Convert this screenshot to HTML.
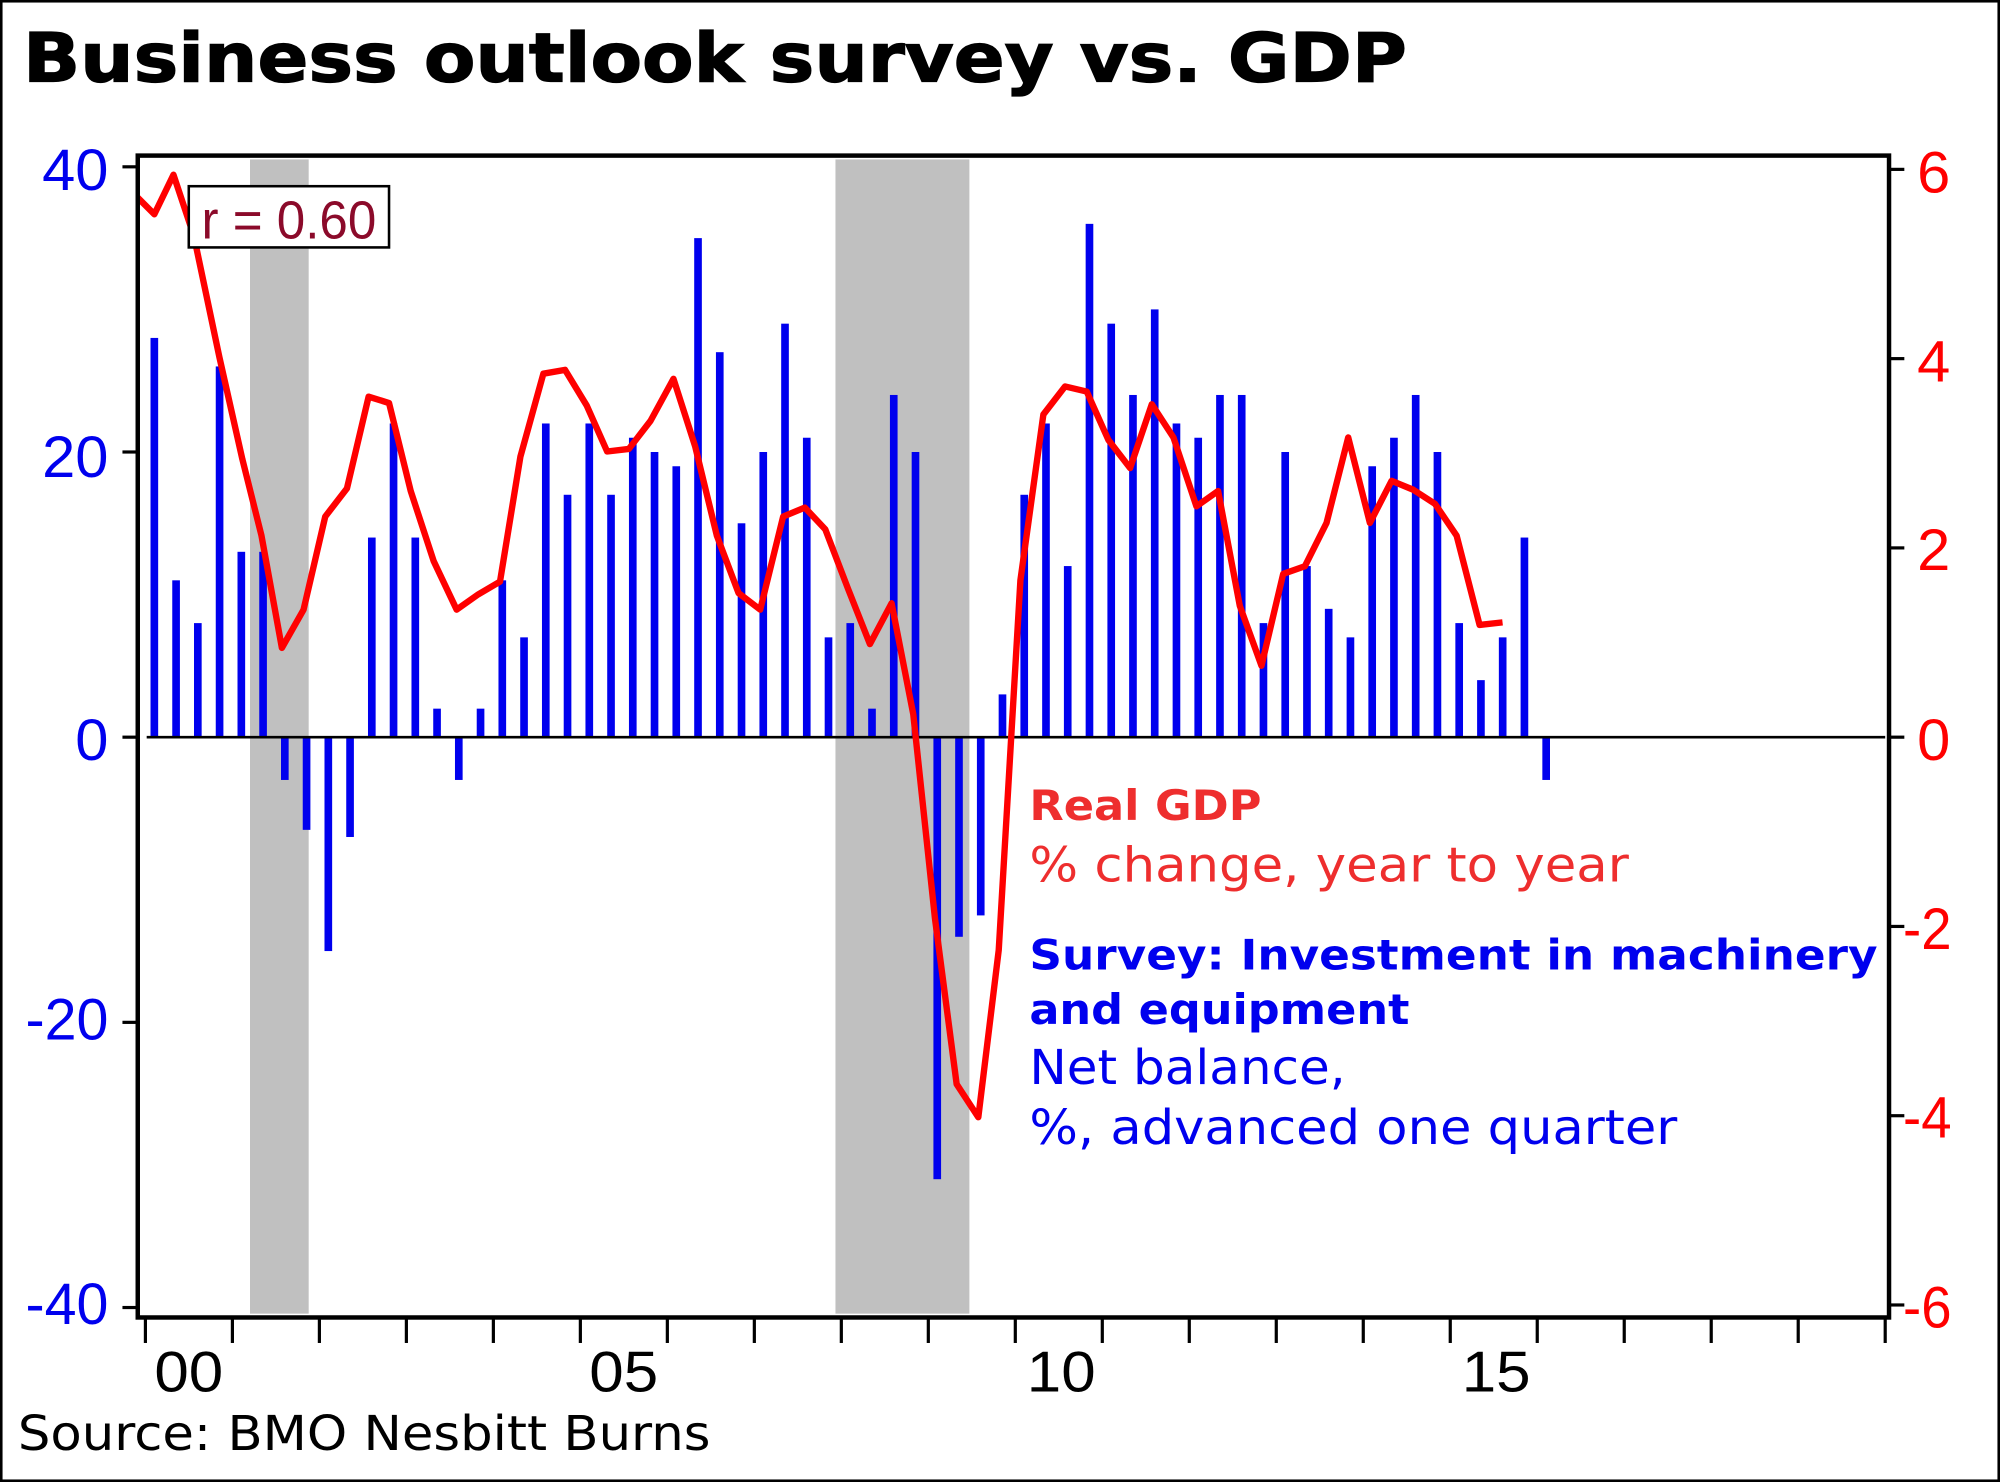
<!DOCTYPE html>
<html><head><meta charset="utf-8"><style>
html,body{margin:0;padding:0;background:#fff;}
svg{display:block;}
</style></head><body>
<svg id="s" width="2000" height="1482" viewBox="0 0 1568 1162" preserveAspectRatio="none" xmlns="http://www.w3.org/2000/svg">
<rect x="0" y="0" width="1568" height="1162" fill="#fff"/>
<rect x="1" y="1" width="1566" height="1160" fill="none" stroke="#000" stroke-width="2"/>
<text x="18" y="64" font-family="DejaVu Sans, Verdana, sans-serif" font-weight="bold" font-size="53" textLength="1085" lengthAdjust="spacingAndGlyphs" fill="#000" stroke="#000" stroke-width="1">Business outlook survey vs. GDP</text>
<rect x="196" y="125" width="46" height="905" fill="#c0c0c0"/>
<rect x="655" y="125" width="105" height="905" fill="#c0c0c0"/>
<g id="bars" fill="#0000ee"></g>
<line x1="115" y1="578" x2="1478" y2="578" stroke="#000" stroke-width="2"/>
<polyline fill="none" stroke="#ff0000" stroke-width="5" stroke-linejoin="round" points="108,155 121,168 136,137 152,185 172,280 190,360 205,420 221,508 238,478 255,405 272,383 289,311 305,316 322,385 340,440 358,478 375,466 392,456 408,358 426,293 443,290 460,318 476,354 493,352 510,330 528,297 545,350 562,420 579,465 596,478 614,405 631,398 647,415 665,462 682,505 699,473 716,560 733,720 750,850 767,876 783,745 800,455 818,325 835,303 852,307 869,345 886,367 903,317 920,343 938,397 955,385 972,475 989,522 1006,450 1023,444 1040,410 1057,343 1074,410 1091,377 1108,384 1125,395 1142,420 1160,490 1178,488"/>
<rect x="108" y="122" width="1373" height="911" fill="none" stroke="#000" stroke-width="3.5"/>
<g id="ticks" stroke="#000" stroke-width="2.5"></g>
<rect x="148" y="146" width="157" height="48" fill="#fff" stroke="#000" stroke-width="2"/>
<text x="158" y="187" font-family="Liberation Sans, sans-serif" font-size="42" textLength="137" lengthAdjust="spacingAndGlyphs" fill="#8b0a2a">r = 0.60</text>
<g font-family="Liberation Sans, sans-serif" font-size="46" fill="#0000ee" lengthAdjust="spacingAndGlyphs">
<text x="33" y="149" textLength="52" lengthAdjust="spacingAndGlyphs">40</text>
<text x="33" y="374" textLength="52" lengthAdjust="spacingAndGlyphs">20</text>
<text x="59" y="596" textLength="26" lengthAdjust="spacingAndGlyphs">0</text>
<text x="20" y="815" textLength="65" lengthAdjust="spacingAndGlyphs">-20</text>
<text x="20" y="1038" textLength="65" lengthAdjust="spacingAndGlyphs">-40</text>
</g>
<g font-family="Liberation Sans, sans-serif" font-size="46" fill="#ff0000">
<text x="1503" y="151" textLength="26" lengthAdjust="spacingAndGlyphs">6</text>
<text x="1503" y="299" textLength="26" lengthAdjust="spacingAndGlyphs">4</text>
<text x="1503" y="447" textLength="26" lengthAdjust="spacingAndGlyphs">2</text>
<text x="1503" y="596" textLength="26" lengthAdjust="spacingAndGlyphs">0</text>
<text x="1492" y="744" textLength="38" lengthAdjust="spacingAndGlyphs">-2</text>
<text x="1492" y="892" textLength="38" lengthAdjust="spacingAndGlyphs">-4</text>
<text x="1492" y="1041" textLength="38" lengthAdjust="spacingAndGlyphs">-6</text>
</g>
<g font-family="Liberation Sans, sans-serif" font-size="45" fill="#000">
<text x="121" y="1091" textLength="54" lengthAdjust="spacingAndGlyphs">00</text>
<text x="462" y="1091" textLength="54" lengthAdjust="spacingAndGlyphs">05</text>
<text x="805" y="1091" textLength="54" lengthAdjust="spacingAndGlyphs">10</text>
<text x="1146" y="1091" textLength="54" lengthAdjust="spacingAndGlyphs">15</text>
</g>
<text x="14" y="1137" font-family="DejaVu Sans, Verdana, sans-serif" font-size="38" textLength="543" lengthAdjust="spacingAndGlyphs" fill="#000">Source: BMO Nesbitt Burns</text>
<g font-family="DejaVu Sans, Verdana, sans-serif">
<text x="807" y="643" font-weight="bold" font-size="33" fill="#ee2e2e" textLength="182" lengthAdjust="spacingAndGlyphs">Real GDP</text>
<text x="807" y="691" font-size="38" fill="#ee2e2e" textLength="470" lengthAdjust="spacingAndGlyphs">% change, year to year</text>
<text x="807" y="760" font-weight="bold" font-size="33" fill="#0000ee" textLength="665" lengthAdjust="spacingAndGlyphs">Survey: Investment in machinery</text>
<text x="807" y="803" font-weight="bold" font-size="33" fill="#0000ee" textLength="298" lengthAdjust="spacingAndGlyphs">and equipment</text>
<text x="807" y="850" font-size="38" fill="#0000ee" textLength="248" lengthAdjust="spacingAndGlyphs">Net balance,</text>
<text x="807" y="897" font-size="38" fill="#0000ee" textLength="508" lengthAdjust="spacingAndGlyphs">%, advanced one quarter</text>
</g>
</svg>
<script>
var v=[28,11,8,26,13,13,-3,-6.5,-15,-7,14,22,14,2,-3,2,11,7,22,17,22,17,21,20,19,35,27,15,20,29,21,7,8,2,24,20,-31,-14,-12.5,3,17,22,12,36,29,24,30,22,21,24,24,8,20,12,9,7,19,21,24,20,8,4,7,14,-3];
var ns="http://www.w3.org/2000/svg",g=document.getElementById("bars"),t=document.getElementById("ticks");
for(var i=0;i<v.length;i++){var x=121+17.05*i,y=578-v[i]*11.18;var r=document.createElementNS(ns,"rect");
r.setAttribute("x",x-3);r.setAttribute("width",6);r.setAttribute("y",Math.min(y,578));r.setAttribute("height",Math.abs(578-y));g.appendChild(r);}
function L(a,b,c,d){var l=document.createElementNS(ns,"line");l.setAttribute("x1",a);l.setAttribute("y1",b);l.setAttribute("x2",c);l.setAttribute("y2",d);t.appendChild(l);}
[40,20,0,-20,-40].forEach(function(k){var y=578-k*11.18;L(96,y,108,y);});
[6,4,2,0,-2,-4,-6].forEach(function(k){var y=578-k*74.2;L(1481,y,1493,y);});
for(var j=0;j<=20;j++){var x=114+68.2*j;L(x,1034,x,1053);}
</script>
</body></html>
